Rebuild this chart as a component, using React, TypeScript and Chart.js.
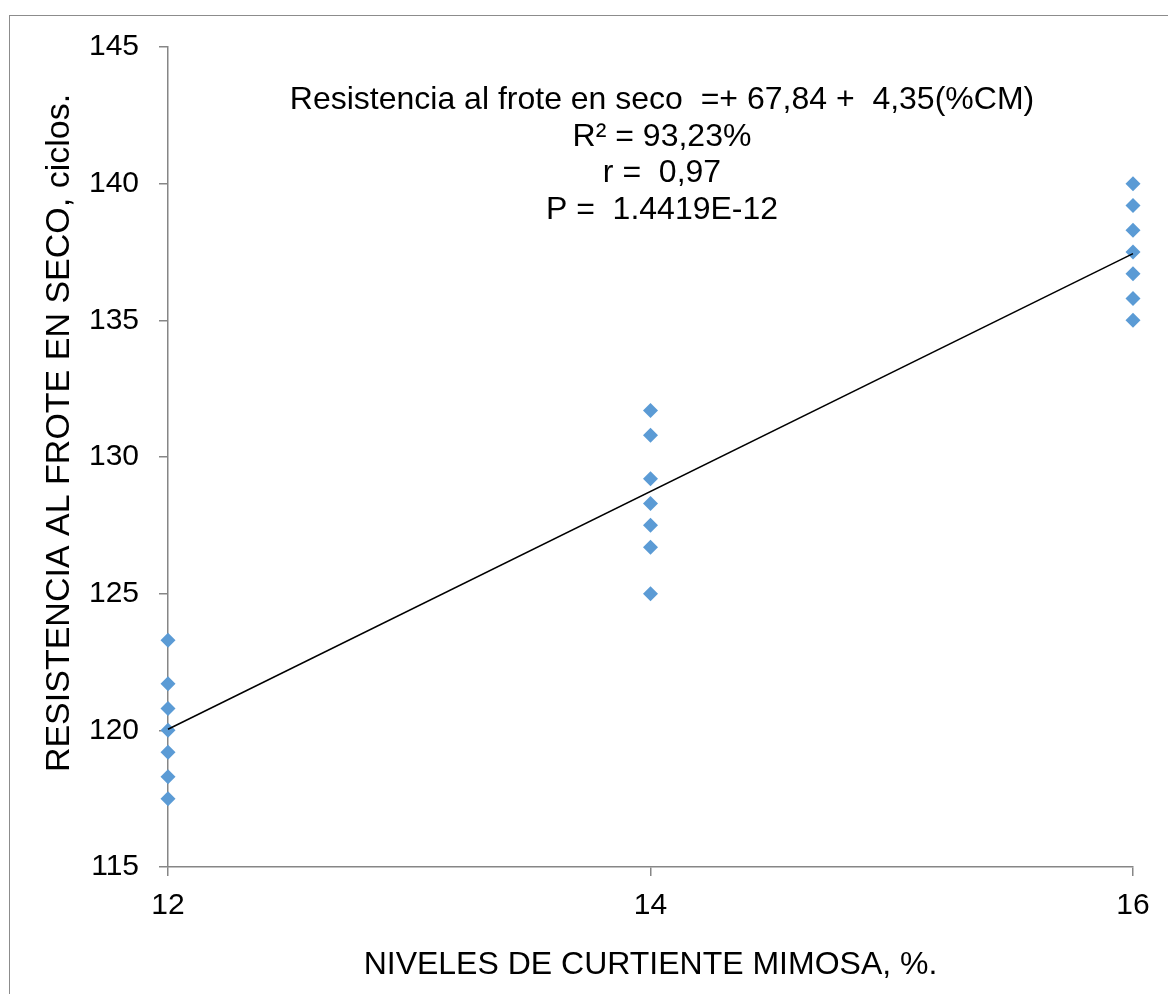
import React, { useEffect, useRef } from 'react';
import { Chart, registerables } from 'chart.js';

Chart.register(...registerables);

// ---- Data ----
const levels = [12, 14, 16];
const values12 = [123.3, 121.7, 120.8, 120.0, 119.2, 118.3, 117.5];
const values14 = [131.7, 130.8, 129.2, 128.3, 127.5, 126.7, 125.0];
const values16 = [140.0, 139.2, 138.3, 137.5, 136.7, 135.8, 135.0];
const trendX = [12, 16];
const trendY = [120.04, 137.44];
const yMin = 115;
const yMax = 145;
const yStep = 5;
const xMin = 12;
const xMax = 16;
const xStep = 2;
const xTitle = 'NIVELES DE CURTIENTE MIMOSA, %.';
const yTitle = 'RESISTENCIA AL FROTE EN SECO, ciclos.';
const annotationLines = [
  'Resistencia al frote en seco  =+ 67,84 +  4,35(%CM)',
  'R² = 93,23%',
  'r =  0,97',
  'P =  1.4419E-12',
];

const FONT = '"Liberation Sans", Arial, sans-serif';
const AXIS_GRAY = '#868686';

export default function App() {
  const canvasRef = useRef<HTMLCanvasElement | null>(null);

  useEffect(() => {
    const canvas = canvasRef.current;
    if (!canvas) return;

    const groups = [values12, values14, values16];
    const points: { x: number; y: number }[] = [];
    groups.forEach((vals, i) => {
      vals.forEach((v) => points.push({ x: levels[i], y: v }));
    });
    const trend = trendX.map((x, i) => ({ x, y: trendY[i] }));

    const textPlugin = {
      id: 'eqText',
      afterDraw(chart: any) {
        const ctx = chart.ctx;
        ctx.save();
        ctx.fillStyle = '#000';
        ctx.font = `32px ${FONT}`;
        ctx.textAlign = 'center';
        ctx.textBaseline = 'middle';
        const cx = 662;
        const y0 = 100;
        const dy = 36.7;
        annotationLines.forEach((t, i) => ctx.fillText(t, cx, y0 + i * dy));
        ctx.restore();

        // rotated y-axis title
        ctx.save();
        ctx.fillStyle = '#000';
        ctx.font = `34px ${FONT}`;
        ctx.textAlign = 'center';
        ctx.textBaseline = 'middle';
        ctx.translate(60, 433);
        ctx.rotate(-Math.PI / 2);
        ctx.fillText(yTitle, 0, 0);
        ctx.restore();
      },
    };

    const chart = new Chart(canvas, {
      type: 'scatter',
      data: {
        datasets: [
          {
            label: 'Tendencia',
            data: trend,
            showLine: true,
            borderColor: '#000000',
            borderWidth: 1.5,
            pointRadius: 0,
            fill: false,
            order: 0,
            clip: false,
          },
          {
            label: 'Datos',
            data: points,
            showLine: false,
            pointStyle: 'rectRot',
            pointRadius: 7.5,
            pointBackgroundColor: '#5B9BD5',
            pointBorderColor: '#5B9BD5',
            pointBorderWidth: 0,
            order: 1,
            clip: false,
          },
        ],
      },
      options: {
        responsive: false,
        animation: false,
        layout: { padding: { left: 0, top: 47, right: 35, bottom: 0 } },
        plugins: {
          legend: { display: false },
          tooltip: { enabled: false },
          title: { display: false },
        },
        scales: {
          x: {
            type: 'linear',
            min: xMin,
            max: xMax,
            afterFit(scale: any) {
              scale.height = 127;
            },
            ticks: {
              stepSize: xStep,
              color: '#000',
              font: { family: FONT, size: 30 },
              padding: 12,
              maxRotation: 0,
            },
            grid: {
              drawOnChartArea: false,
              drawTicks: true,
              tickLength: 9,
              color: AXIS_GRAY,
              lineWidth: 1.5,
            },
            border: { display: true, color: AXIS_GRAY, width: 1.5 },
            title: {
              display: true,
              text: xTitle,
              color: '#000',
              font: { family: FONT, size: 32 },
              padding: { top: 0, bottom: 10 },
            },
          },
          y: {
            type: 'linear',
            min: yMin,
            max: yMax,
            afterFit(scale: any) {
              scale.width = 168;
            },
            ticks: {
              stepSize: yStep,
              color: '#000',
              font: { family: FONT, size: 30 },
              padding: 20,
            },
            grid: {
              drawOnChartArea: false,
              drawTicks: true,
              tickLength: 9,
              color: AXIS_GRAY,
              lineWidth: 1.5,
            },
            border: { display: true, color: AXIS_GRAY, width: 1.5 },
            title: { display: false },
          },
        },
      },
      plugins: [textPlugin],
    });

    return () => chart.destroy();
  }, []);

  return (
    <div>
      <div
        style={{
          position: 'fixed',
          left: 9,
          top: 15,
          width: 1200,
          height: 1020,
          border: '1.5px solid #8c8c8c',
          boxSizing: 'border-box',
        }}
      />
      <canvas
        ref={canvasRef}
        width={1168}
        height={994}
        style={{ position: 'fixed', left: 0, top: 0, width: 1168, height: 994 }}
      />
    </div>
  );
}
